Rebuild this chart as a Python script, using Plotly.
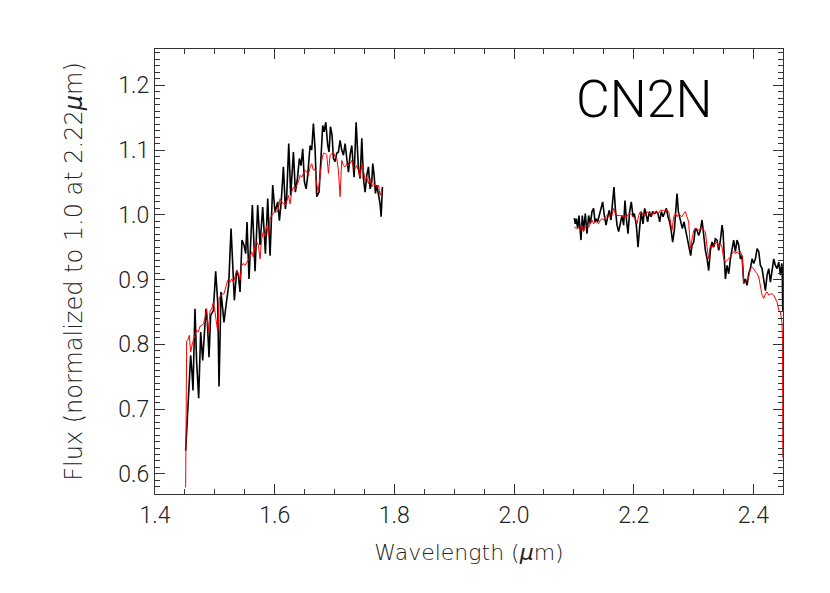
import plotly.graph_objects as go

# ---- H band: observed (black) ----
wl_h_obs = [1.4512, 1.4540, 1.4574, 1.4596, 1.4618, 1.4635, 1.4668, 1.4696, 1.4730, 1.4763,
            1.4797, 1.4819, 1.4852, 1.4875, 1.4903, 1.4930, 1.4975, 1.5014, 1.5048, 1.5070,
            1.5103, 1.5131, 1.5153, 1.5187, 1.5231, 1.5271, 1.5310, 1.5326, 1.5365, 1.5393,
            1.5421, 1.5454, 1.5488, 1.5516, 1.5538, 1.5571, 1.5627, 1.5672, 1.5716, 1.5755,
            1.5800, 1.5845, 1.5884, 1.5923, 1.5967, 1.6006, 1.6051, 1.6079, 1.6107, 1.6146,
            1.6179, 1.6201, 1.6235, 1.6268, 1.6313, 1.6346, 1.6380, 1.6413, 1.6441, 1.6469,
            1.6497, 1.6525, 1.6547, 1.6569, 1.6592, 1.6619, 1.6647, 1.6675, 1.6703, 1.6742,
            1.6776, 1.6803, 1.6826, 1.6854, 1.6887, 1.6909, 1.6932, 1.6959, 1.6982, 1.7010,
            1.7037, 1.7065, 1.7093, 1.7121, 1.7149, 1.7177, 1.7205, 1.7233, 1.7260, 1.7288,
            1.7327, 1.7361, 1.7400, 1.7428, 1.7456, 1.7483, 1.7511, 1.7539, 1.7567, 1.7595,
            1.7623, 1.7639, 1.7662, 1.7684, 1.7706, 1.7734, 1.7762, 1.7779, 1.7801]
flux_h_obs = [0.636, 0.680, 0.731, 0.783, 0.757, 0.729, 0.855, 0.773, 0.717, 0.819,
              0.775, 0.803, 0.855, 0.834, 0.780, 0.845, 0.852, 0.913, 0.865, 0.735,
              0.881, 0.855, 0.834, 0.860, 0.891, 0.979, 0.907, 0.868, 0.914, 0.907,
              0.881, 0.961, 0.953, 0.940, 0.989, 0.901, 1.015, 0.913, 1.015, 0.953,
              1.012, 0.940, 1.025, 0.937, 1.046, 1.004, 1.020, 0.991, 1.017, 1.074,
              1.009, 1.028, 1.110, 1.030, 1.097, 1.035, 1.056, 1.087, 1.076, 1.102,
              1.051, 1.040, 1.056, 1.076, 1.107, 1.100, 1.141, 1.102, 1.028, 1.035,
              1.102, 1.138, 1.128, 1.143, 1.107, 1.097, 1.136, 1.123, 1.087, 1.082,
              1.095, 1.097, 1.115, 1.100, 1.092, 1.110, 1.087, 1.066, 1.092, 1.107,
              1.058, 1.143, 1.071, 1.056, 1.118, 1.056, 1.035, 1.061, 1.074, 1.040,
              1.051, 1.079, 1.061, 1.033, 1.046, 1.033, 1.017, 0.997, 1.043]

# ---- H band: model (red) ----
wl_h_mod = [1.4512, 1.4529, 1.4546, 1.4574, 1.4596, 1.4629, 1.4668, 1.4696, 1.4724, 1.4752,
            1.4780, 1.4808, 1.4836, 1.4864, 1.4891, 1.4919, 1.4947, 1.4975, 1.5003, 1.5031,
            1.5048, 1.5075, 1.5103, 1.5131, 1.5153, 1.5187, 1.5215, 1.5254, 1.5282, 1.5310,
            1.5337, 1.5365, 1.5393, 1.5421, 1.5449, 1.5477, 1.5505, 1.5533, 1.5560, 1.5588,
            1.5616, 1.5644, 1.5672, 1.5700, 1.5728, 1.5755, 1.5783, 1.5811, 1.5839, 1.5867,
            1.5895, 1.5923, 1.5951, 1.5978, 1.6006, 1.6034, 1.6062, 1.6090, 1.6118, 1.6146,
            1.6174, 1.6201, 1.6229, 1.6257, 1.6285, 1.6313, 1.6341, 1.6369, 1.6396, 1.6424,
            1.6452, 1.6480, 1.6508, 1.6536, 1.6564, 1.6592, 1.6619, 1.6647, 1.6675, 1.6703,
            1.6731, 1.6759, 1.6787, 1.6814, 1.6842, 1.6870, 1.6898, 1.6926, 1.6954, 1.6982,
            1.7010, 1.7037, 1.7065, 1.7093, 1.7121, 1.7149, 1.7177, 1.7205, 1.7233, 1.7260,
            1.7288, 1.7316, 1.7344, 1.7372, 1.7400, 1.7428, 1.7456, 1.7483, 1.7511, 1.7539,
            1.7567, 1.7595, 1.7623, 1.7651, 1.7679, 1.7706, 1.7734, 1.7762, 1.7790]
flux_h_mod = [0.579, 0.805, 0.806, 0.814, 0.788, 0.803, 0.814, 0.822, 0.819, 0.828,
              0.829, 0.832, 0.840, 0.855, 0.819, 0.851, 0.855, 0.865, 0.850, 0.834,
              0.819, 0.873, 0.876, 0.878, 0.878, 0.891, 0.899, 0.896, 0.901, 0.896,
              0.904, 0.914, 0.909, 0.899, 0.922, 0.925, 0.922, 0.927, 0.932, 0.935,
              0.943, 0.935, 0.953, 0.958, 0.953, 0.932, 0.963, 0.974, 0.968, 0.984,
              0.968, 0.994, 0.999, 1.002, 1.007, 1.004, 1.009, 1.025, 1.020, 1.017,
              1.015, 1.020, 1.030, 1.017, 1.035, 1.043, 1.040, 1.046, 1.051, 1.061,
              1.058, 1.064, 1.069, 1.066, 1.061, 1.074, 1.079, 1.069, 1.071, 1.046,
              1.035, 1.061, 1.084, 1.095, 1.095, 1.092, 1.064, 1.092, 1.095, 1.097,
              1.089, 1.087, 1.069, 1.028, 1.084, 1.076, 1.074, 1.079, 1.076, 1.079,
              1.084, 1.074, 1.071, 1.076, 1.069, 1.058, 1.079, 1.069, 1.053, 1.058,
              1.048, 1.056, 1.043, 1.048, 1.046, 1.043, 1.046, 1.030, 1.040]

# ---- K band: observed (black) ----
wl_k_obs = [2.1007, 2.1024, 2.1041, 2.1063, 2.1085, 2.1119, 2.1141, 2.1163, 2.1191, 2.1219,
            2.1247, 2.1275, 2.1303, 2.1330, 2.1353, 2.1375, 2.1397, 2.1425, 2.1453, 2.1481,
            2.1509, 2.1537, 2.1565, 2.1592, 2.1620, 2.1648, 2.1670, 2.1693, 2.1721, 2.1748,
            2.1776, 2.1804, 2.1832, 2.1854, 2.1877, 2.1905, 2.1932, 2.1960, 2.1988, 2.2010,
            2.2044, 2.2072, 2.2100, 2.2127, 2.2155, 2.2183, 2.2211, 2.2233, 2.2261, 2.2289,
            2.2317, 2.2345, 2.2378, 2.2406, 2.2434, 2.2462, 2.2490, 2.2518, 2.2546, 2.2573,
            2.2601, 2.2629, 2.2651, 2.2679, 2.2702, 2.2724, 2.2746, 2.2768, 2.2791, 2.2813,
            2.2841, 2.2869, 2.2902, 2.2930, 2.2952, 2.2975, 2.3003, 2.3030, 2.3058, 2.3086,
            2.3114, 2.3142, 2.3170, 2.3198, 2.3226, 2.3253, 2.3281, 2.3309, 2.3337, 2.3365,
            2.3393, 2.3421, 2.3449, 2.3476, 2.3493, 2.3510, 2.3532, 2.3560, 2.3588, 2.3616,
            2.3644, 2.3671, 2.3699, 2.3727, 2.3755, 2.3783, 2.3811, 2.3839, 2.3867, 2.3894,
            2.3922, 2.3950, 2.3978, 2.4006, 2.4034, 2.4062, 2.4090, 2.4117, 2.4145, 2.4173,
            2.4201, 2.4229, 2.4257, 2.4285, 2.4313, 2.4340, 2.4368, 2.4396, 2.4424, 2.4452,
            2.4475, 2.4483, 2.4490]
flux_k_obs = [0.995, 0.986, 0.994, 0.979, 0.999, 0.961, 0.999, 0.976, 1.002, 0.971,
              0.999, 0.986, 1.005, 1.010, 0.989, 0.994, 0.989, 0.999, 1.010, 1.020,
              0.999, 0.984, 0.997, 1.007, 0.992, 1.015, 1.043, 1.010, 0.984, 0.974,
              0.989, 0.999, 0.984, 1.022, 0.994, 0.971, 1.005, 1.020, 0.997, 1.002,
              0.984, 0.950, 0.981, 1.005, 0.986, 1.010, 0.999, 0.989, 1.005, 0.997,
              1.005, 1.002, 1.005, 1.002, 0.989, 1.005, 0.997, 1.005, 1.010, 0.997,
              0.989, 0.974, 0.958, 0.976, 1.005, 1.033, 1.005, 0.997, 0.989, 0.979,
              0.989, 0.976, 0.963, 0.953, 0.937, 0.953, 0.958, 0.979, 0.976, 0.968,
              0.976, 0.992, 0.963, 0.945, 0.932, 0.914, 0.945, 0.958, 0.950, 0.963,
              0.961, 0.945, 0.961, 0.984, 0.974, 0.932, 0.901, 0.922, 0.909, 0.932,
              0.945, 0.961, 0.943, 0.961, 0.953, 0.932, 0.937, 0.894, 0.901, 0.891,
              0.909, 0.917, 0.932, 0.925, 0.932, 0.948, 0.943, 0.922, 0.917, 0.901,
              0.883, 0.907, 0.917, 0.896, 0.912, 0.932, 0.922, 0.917, 0.927, 0.907,
              0.925, 0.917, 0.852]

# ---- K band: model (red) ----
wl_k_mod = [2.1007, 2.1041, 2.1080, 2.1107, 2.1135, 2.1163, 2.1191, 2.1219, 2.1247, 2.1275,
            2.1303, 2.1330, 2.1358, 2.1386, 2.1414, 2.1442, 2.1470, 2.1498, 2.1525, 2.1553,
            2.1581, 2.1609, 2.1637, 2.1665, 2.1693, 2.1721, 2.1748, 2.1776, 2.1804, 2.1832,
            2.1860, 2.1888, 2.1916, 2.1944, 2.1971, 2.1999, 2.2027, 2.2055, 2.2083, 2.2111,
            2.2139, 2.2167, 2.2194, 2.2222, 2.2250, 2.2278, 2.2306, 2.2334, 2.2362, 2.2389,
            2.2417, 2.2445, 2.2473, 2.2501, 2.2529, 2.2557, 2.2585, 2.2612, 2.2640, 2.2668,
            2.2696, 2.2724, 2.2752, 2.2780, 2.2808, 2.2835, 2.2863, 2.2891, 2.2919, 2.2947,
            2.2975, 2.3003, 2.3030, 2.3058, 2.3086, 2.3114, 2.3142, 2.3170, 2.3198, 2.3226,
            2.3253, 2.3281, 2.3309, 2.3337, 2.3365, 2.3393, 2.3421, 2.3449, 2.3476, 2.3504,
            2.3532, 2.3560, 2.3588, 2.3616, 2.3644, 2.3671, 2.3699, 2.3727, 2.3755, 2.3783,
            2.3811, 2.3839, 2.3867, 2.3894, 2.3922, 2.3950, 2.3978, 2.4006, 2.4034, 2.4062,
            2.4090, 2.4117, 2.4145, 2.4173, 2.4201, 2.4229, 2.4257, 2.4285, 2.4313, 2.4340,
            2.4368, 2.4396, 2.4424, 2.4452, 2.4478, 2.4487, 2.4492]
flux_k_mod = [0.981, 0.979, 0.981, 0.976, 0.984, 0.974, 0.981, 0.984, 0.981, 0.986,
              0.992, 0.986, 0.989, 0.989, 0.986, 0.992, 0.994, 0.992, 0.997, 0.999,
              0.997, 1.002, 0.999, 1.010, 1.002, 0.999, 0.999, 0.999, 0.997, 0.997,
              0.999, 0.997, 1.002, 1.002, 0.999, 0.997, 0.994, 0.986, 0.999, 1.005,
              1.002, 1.002, 0.999, 1.005, 1.002, 1.002, 0.999, 1.005, 1.002, 1.005,
              1.002, 1.007, 1.007, 1.007, 1.005, 1.007, 1.005, 0.992, 0.976, 0.997,
              1.002, 0.997, 1.002, 0.999, 0.997, 1.002, 1.005, 0.997, 0.989, 0.948,
              0.966, 0.976, 0.979, 0.979, 0.976, 0.979, 0.979, 0.976, 0.974, 0.950,
              0.932, 0.953, 0.950, 0.953, 0.956, 0.958, 0.950, 0.956, 0.950, 0.932,
              0.927, 0.930, 0.932, 0.935, 0.940, 0.943, 0.940, 0.943, 0.940, 0.943,
              0.937, 0.894, 0.896, 0.899, 0.904, 0.917, 0.919, 0.917, 0.912, 0.909,
              0.904, 0.891, 0.876, 0.871, 0.878, 0.881, 0.876, 0.878, 0.878, 0.876,
              0.871, 0.865, 0.853, 0.850, 0.834, 0.806, 0.625]

x_tick_vals = [1.4, 1.6, 1.8, 2.0, 2.2, 2.4]
x_tick_text = ["1.4", "1.6", "1.8", "2.0", "2.2", "2.4"]
y_tick_vals = [0.6, 0.7, 0.8, 0.9, 1.0, 1.1, 1.2]
y_tick_text = ["0.6", "0.7", "0.8", "0.9", "1.0", "1.1", "1.2"]

FONT = "Roboto"
TITLE_FONT = "DejaVu Sans ExtraLight, DejaVu Sans"
AXCOL = "#333333"
TXTCOL = "#222222"

fig = go.Figure()
for wl, fl in [(wl_h_obs, flux_h_obs), (wl_k_obs, flux_k_obs)]:
    fig.add_trace(go.Scatter(x=wl, y=fl, mode="lines", line=dict(color="black", width=1.6),
                             showlegend=False, hoverinfo="skip"))
for wl, fl in [(wl_h_mod, flux_h_mod), (wl_k_mod, flux_k_mod)]:
    fig.add_trace(go.Scatter(x=wl, y=fl, mode="lines", line=dict(color="#ff0000", width=1),
                             showlegend=False, hoverinfo="skip"))

fig.add_annotation(x=2.10, y=1.178, xref="x", yref="y", text="CN2N", showarrow=False,
                   xanchor="left", yanchor="middle",
                   font=dict(family=FONT, size=52, color="black", weight=300))

axis_common = dict(showgrid=False, zeroline=False, showline=True, linecolor=AXCOL, linewidth=1,
                   mirror="allticks", ticks="inside", ticklen=10, tickcolor=AXCOL, tickwidth=1,
                   automargin=False,
                   tickfont=dict(family=FONT, size=23, color=TXTCOL, weight=300))

# the page body adds an 8 px offset, so margins are reduced by 8 on the left/top
fig.update_layout(
    width=830, height=593,
    margin=dict(l=147, r=55, t=41, b=107),
    paper_bgcolor="white", plot_bgcolor="white",
    xaxis=dict(range=[1.4, 2.4495], tickvals=x_tick_vals, ticktext=x_tick_text,
               minor=dict(dtick=0.05, tick0=1.4, ticks="inside", ticklen=5, tickcolor=AXCOL),
               title=dict(text="Wavelength (<i>μ</i>m)", standoff=17,
                          font=dict(family=TITLE_FONT, size=22, color=TXTCOL, weight=200)),
               **axis_common),
    yaxis=dict(range=[0.569, 1.256], tickvals=y_tick_vals, ticktext=y_tick_text,
               minor=dict(dtick=0.01, tick0=0.6, ticks="inside", ticklen=5, tickcolor=AXCOL),
               title=dict(text="Flux (normalized to 1.0 at 2.22<i>μ</i>m)", standoff=28,
                          font=dict(family=TITLE_FONT, size=24, color=TXTCOL, weight=200)),
               **axis_common),
)

fig.write_html("out.html")
